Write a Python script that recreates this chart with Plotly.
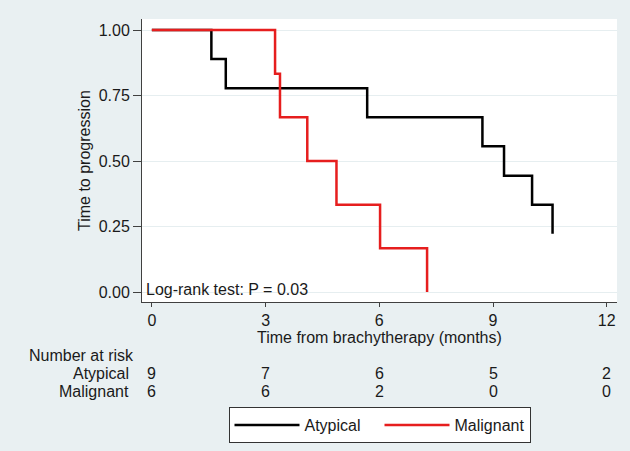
import plotly.graph_objects as go

# Kaplan-Meier step data (time in months, survival)
atyp_t = [0, 1.57, 1.57, 1.95, 1.95, 5.68, 5.68, 8.72, 8.72, 9.29, 9.29, 10.03, 10.03, 10.57, 10.57]
atyp_s = [1.0, 1.0, 0.889, 0.889, 0.778, 0.778, 0.667, 0.667, 0.556, 0.556, 0.444, 0.444, 0.333, 0.333, 0.222]
mal_t = [0, 3.25, 3.25, 3.38, 3.38, 4.10, 4.10, 4.87, 4.87, 6.02, 6.02, 7.26, 7.26]
mal_s = [1.0, 1.0, 0.833, 0.833, 0.667, 0.667, 0.5, 0.5, 0.333, 0.333, 0.167, 0.167, 0.0]

risk_times = [0, 3, 6, 9, 12]
risk_atypical = [9, 7, 6, 5, 2]
risk_malignant = [6, 6, 2, 0, 0]

x_ticks = [0, 3, 6, 9, 12]
y_ticks = [0.0, 0.25, 0.5, 0.75, 1.0]
y_ticklabels = ["0.00", "0.25", "0.50", "0.75", "1.00"]

FONT = "Liberation Sans, Arial, sans-serif"
FS = 16
TXT = "#1a1a1a"
BG = "#e9f0f2"
GRID = "#e6eef0"
AX = "#404040"

W, H = 630, 451
x0, x1 = 142, 617
y0, y1 = 19, 302

fig = go.Figure()
fig.add_trace(go.Scatter(x=atyp_t, y=atyp_s, mode="lines", name="Atypical",
                         line=dict(color="#000000", width=2.5)))
fig.add_trace(go.Scatter(x=mal_t, y=mal_s, mode="lines", name="Malignant",
                         line=dict(color="#e61e1e", width=2.5)))

fig.update_layout(
    width=W, height=H,
    margin=dict(l=0, r=0, t=0, b=0),
    paper_bgcolor=BG, plot_bgcolor="white",
    font=dict(family=FONT, size=FS, color=TXT),
    xaxis=dict(domain=[x0 / W, x1 / W], range=[-0.26, 12.27], tickvals=x_ticks,
               showgrid=False, zeroline=False, showline=True, linecolor=AX, linewidth=1,
               ticks="outside", ticklen=4, tickcolor=AX,
               tickfont=dict(size=FS, color=TXT)),
    yaxis=dict(domain=[1 - y1 / H, 1 - y0 / H], range=[-0.038, 1.042], tickvals=y_ticks,
               ticktext=y_ticklabels, showgrid=True, gridcolor=GRID, gridwidth=1,
               zeroline=False, showline=True, linecolor=AX, linewidth=1,
               ticks="outside", ticklen=8, tickcolor=AX,
               tickfont=dict(size=FS, color=TXT)),
    legend=dict(orientation="h", x=0.5 * (x0 + x1) / W, xanchor="center",
                y=1 - 407 / H, yanchor="top",
                bgcolor="white", bordercolor="#333333", borderwidth=1,
                font=dict(size=FS, color=TXT, family=FONT),
                itemwidth=65, entrywidthmode="pixels", entrywidth=70),
    showlegend=True,
)

annotations = [
    dict(text="Log-rank test: P = 0.03", xref="paper", yref="paper",
         x=144 / W, y=1 - 289 / H, xanchor="left", yanchor="middle", showarrow=False),
    dict(text="Time from brachytherapy (months)", xref="paper", yref="paper",
         x=0.5 * (x0 + x1) / W, y=1 - 337 / H, xanchor="center", yanchor="middle",
         showarrow=False),
    dict(text="Time to progression", xref="paper", yref="paper", textangle=-90,
         x=85 / W, y=1 - 161 / H, xanchor="center", yanchor="middle", showarrow=False),
    dict(text="Number at risk", xref="paper", yref="paper",
         x=27 / W, y=1 - 355 / H, xanchor="left", yanchor="middle", showarrow=False),
    dict(text="Atypical", xref="paper", yref="paper",
         x=131 / W, y=1 - 373 / H, xanchor="right", yanchor="middle", showarrow=False),
    dict(text="Malignant", xref="paper", yref="paper",
         x=131 / W, y=1 - 391 / H, xanchor="right", yanchor="middle", showarrow=False),
]
for t, v in zip(risk_times, risk_atypical):
    annotations.append(dict(text=str(v), xref="x", yref="paper", x=t, y=1 - 373 / H,
                            xanchor="center", yanchor="middle", showarrow=False))
for t, v in zip(risk_times, risk_malignant):
    annotations.append(dict(text=str(v), xref="x", yref="paper", x=t, y=1 - 391 / H,
                            xanchor="center", yanchor="middle", showarrow=False))
fig.update_layout(annotations=annotations)

fig.write_html("out.html", config={"displayModeBar": False},
               post_script="document.body.style.margin='0px';document.body.style.padding='0px';")
